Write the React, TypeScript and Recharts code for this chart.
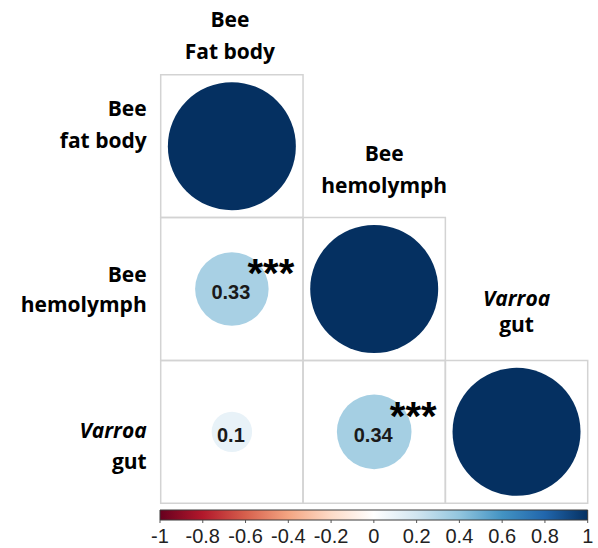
import {
  ReferenceArea,
  Scatter,
  ScatterChart,
  XAxis,
  YAxis,
  ZAxis,
} from "recharts";

// correlation matrix, lower triangle (row i, column j <= i)
const rowLabels = [
  ["Bee", "fat body"],
  ["Bee", "hemolymph"],
  ["Varroa", "gut"],
];
const colLabels = [
  ["Bee", "Fat body"],
  ["Bee", "hemolymph"],
  ["Varroa", "gut"],
];
const italicFirst = [false, false, true];
const corr = [[1], [0.33, 1], [0.1, 0.34, 1]];
const stars = [[""], ["***", ""], ["", "***", ""]];

const legendTicks = [-1, -0.8, -0.6, -0.4, -0.2, 0, 0.2, 0.4, 0.6, 0.8, 1];
const rdbu = [
  "#67001F",
  "#B2182B",
  "#D6604D",
  "#F4A582",
  "#FDDBC7",
  "#FFFFFF",
  "#D1E5F0",
  "#92C5DE",
  "#4393C3",
  "#2166AC",
  "#053061",
];

const LABEL_FONT = "'Open Sans', sans-serif";
const NUM_FONT = "'Liberation Sans', Arial, sans-serif";

// layout tweaks (baseline offsets of the two label lines)
const ROW_OFFSETS = [
  [-30, 2],
  [-7, 23],
  [6, 37],
];
const COL_OFFSETS = [
  { dx: -2, lines: [-48, -16] },
  { dx: 10, lines: [-57, -25] },
  { dx: 0, lines: [-54, -28] },
];
const CELL_H = (503.3 - 74.7) / 3;

function hexToRgb(h: string) {
  const n = parseInt(h.slice(1), 16);
  return [(n >> 16) & 255, (n >> 8) & 255, n & 255];
}

function corrColor(r: number) {
  const t = ((r + 1) / 2) * (rdbu.length - 1);
  const i = Math.min(Math.floor(t), rdbu.length - 2);
  const f = t - i;
  const a = hexToRgb(rdbu[i]);
  const b = hexToRgb(rdbu[i + 1]);
  const c = a.map((v, k) => Math.round(v + (b[k] - v) * f));
  return `rgb(${c[0]},${c[1]},${c[2]})`;
}

const cells = corr.flatMap((row, i) =>
  row.map((r, j) => ({
    col: j + 0.5,
    row: i + 0.5,
    r,
    absR: Math.abs(r),
    sig: stars[i][j],
    diag: i === j,
  }))
);

function CorrShape(props: any) {
  const { cx, cy, size, payload } = props;
  const rad = size != null ? Math.sqrt(size / Math.PI) : props.width / 2;
  return (
    <g>
      <circle cx={cx} cy={cy} r={rad} fill={corrColor(payload.r)} />
      {!payload.diag && (
        <text
          x={cx - 1}
          y={cy + 10}
          textAnchor="middle"
          fontFamily={NUM_FONT}
          fontWeight="bold"
          fontSize={20}
          fill="#1a1a1a"
        >
          {payload.r}
        </text>
      )}
      {payload.sig && (
        <text
          x={cx + 39}
          y={cy - 2}
          textAnchor="middle"
          fontFamily={NUM_FONT}
          fontWeight="bold"
          fontSize={40}
          fill="#000"
        >
          {payload.sig}
        </text>
      )}
    </g>
  );
}

function RowTick(props: any) {
  const { x, y, payload } = props;
  const idx = Math.floor(payload.value);
  const [l1, l2] = rowLabels[idx];
  const off = ROW_OFFSETS[idx];
  return (
    <text textAnchor="end" fontFamily={LABEL_FONT} fontWeight={700} fontSize={21} fill="#000">
      <tspan x={x} y={y + off[0]} fontStyle={italicFirst[idx] ? "italic" : "normal"}>
        {l1}
      </tspan>
      <tspan x={x} y={y + off[1]}>
        {l2}
      </tspan>
    </text>
  );
}

function ColTick(props: any) {
  const { x, y, payload } = props;
  const idx = Math.floor(payload.value);
  const [l1, l2] = colLabels[idx];
  const o = COL_OFFSETS[idx];
  const top = y + idx * CELL_H;
  return (
    <text textAnchor="middle" fontFamily={LABEL_FONT} fontWeight={700} fontSize={21} fill="#000">
      <tspan x={x + o.dx} y={top + o.lines[0]} fontStyle={italicFirst[idx] ? "italic" : "normal"}>
        {l1}
      </tspan>
      <tspan x={x + o.dx} y={top + o.lines[1]}>
        {l2}
      </tspan>
    </text>
  );
}

export default function App() {
  return (
    <div
      style={{
        position: "fixed",
        left: 0,
        top: 0,
        width: 598,
        height: 548,
        background: "#fff",
        overflow: "hidden",
      }}
    >
      <div style={{ position: "absolute", left: 0, top: 0 }}>
        <ScatterChart width={598} height={548} margin={{ top: 0, right: 10.3, bottom: 44.7, left: 0 }}>
          <XAxis
            type="number"
            dataKey="col"
            orientation="top"
            domain={[0, 3]}
            ticks={[0.5, 1.5, 2.5]}
            interval={0}
            height={74.7}
            axisLine={false}
            tickLine={false}
            tickSize={0}
            tickMargin={0}
            tick={<ColTick />}
          />
          <YAxis
            type="number"
            dataKey="row"
            domain={[0, 3]}
            reversed
            ticks={[0.5, 1.5, 2.5]}
            interval={0}
            width={160.7}
            axisLine={false}
            tickLine={false}
            tickSize={0}
            tickMargin={14}
            tick={<RowTick />}
          />
          <ZAxis type="number" dataKey="absR" domain={[0, 1]} range={[0, Math.PI * 64 * 64]} />
          {cells.map((c, k) => (
            <ReferenceArea
              key={`cell-${k}`}
              x1={c.col - 0.5}
              x2={c.col + 0.5}
              y1={c.row - 0.5}
              y2={c.row + 0.5}
              fill="none"
              fillOpacity={0}
              stroke="#d3d3d3"
              strokeWidth={1.5}
            />
          ))}
          <Scatter data={cells} shape={<CorrShape />} isAnimationActive={false} />
        </ScatterChart>
      </div>
      <div style={{ position: "absolute", left: 0, top: 500 }}>
        <ScatterChart width={598} height={48} margin={{ top: 10, right: 10.3, bottom: 0, left: 160 }}>
          <defs>
            <linearGradient id="rdbu" x1="0" y1="0" x2="1" y2="0">
              {rdbu.map((c, i) => (
                <stop key={c} offset={i / (rdbu.length - 1)} stopColor={c} />
              ))}
            </linearGradient>
          </defs>
          <XAxis
            type="number"
            dataKey="t"
            domain={[-1, 1]}
            ticks={legendTicks}
            interval={0}
            height={28}
            axisLine={false}
            tickLine={{ stroke: "#555" }}
            tickSize={3}
            tickMargin={6}
            tickFormatter={(v: number) => String(v)}
            tick={{ fontFamily: NUM_FONT, fontSize: 20, fill: "#222" }}
          />
          <YAxis type="number" dataKey="v" domain={[0, 1]} hide />
          <ReferenceArea
            x1={-1}
            x2={1}
            y1={0}
            y2={1}
            fill="url(#rdbu)"
            fillOpacity={1}
            stroke="#3a3a3a"
            strokeWidth={1}
          />
          <Scatter
            data={legendTicks.map((t) => ({ t, v: 0.5 }))}
            shape={() => <g />}
            isAnimationActive={false}
          />
        </ScatterChart>
      </div>
    </div>
  );
}
